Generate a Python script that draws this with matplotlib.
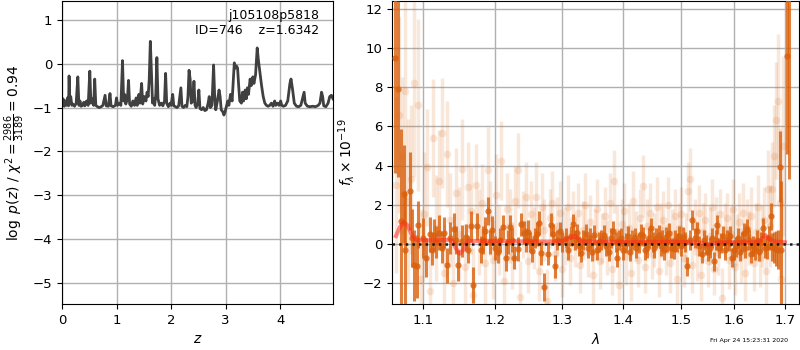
import numpy as np
import matplotlib
matplotlib.use("Agg")
import matplotlib.pyplot as plt
from matplotlib.ticker import FixedLocator, NullLocator, FixedFormatter

# ---------------- left panel: log p(z) ----------------
pz_z = [0.00, 0.02, 0.04, 0.06, 0.08, 0.10, 0.12, 0.13, 0.145, 0.16, 0.18, 0.20, 0.23, 0.26, 0.29, 0.31,
        0.33, 0.35, 0.38, 0.40, 0.42, 0.45, 0.48, 0.51, 0.53, 0.55, 0.58, 0.60, 0.62, 0.65, 0.68, 0.72,
        0.75, 0.79, 0.81, 0.85, 0.88, 0.90, 0.94, 0.98, 1.00, 1.02, 1.05, 1.08, 1.11, 1.13, 1.15, 1.17,
        1.20, 1.22, 1.24, 1.27, 1.30, 1.33, 1.36, 1.38, 1.41, 1.43, 1.46, 1.48, 1.51, 1.54, 1.56, 1.58,
        1.60, 1.62, 1.64, 1.66, 1.68, 1.70, 1.72, 1.74, 1.76, 1.79, 1.82, 1.85, 1.88, 1.90, 1.92, 1.95,
        1.98, 2.00, 2.03, 2.05, 2.08, 2.11, 2.14, 2.18, 2.20, 2.23, 2.26, 2.29, 2.31, 2.33, 2.35, 2.37,
        2.40, 2.42, 2.44, 2.46, 2.49, 2.51, 2.53, 2.56, 2.59, 2.62, 2.65, 2.68, 2.70, 2.72, 2.75, 2.78,
        2.80, 2.82, 2.85, 2.88, 2.90, 2.92, 2.95, 2.97, 2.99, 3.01, 3.04, 3.06, 3.09, 3.12, 3.14, 3.16,
        3.18, 3.20, 3.22, 3.24, 3.26, 3.29, 3.31, 3.33, 3.36, 3.38, 3.40, 3.42, 3.45, 3.47, 3.50, 3.52,
        3.55, 3.58, 3.60, 3.63, 3.66, 3.69, 3.72, 3.75, 3.78, 3.81, 3.84, 3.87, 3.90, 3.92, 3.95, 3.98,
        4.01, 4.03, 4.06, 4.10, 4.14, 4.18, 4.20, 4.23, 4.26, 4.30, 4.34, 4.38, 4.41, 4.44, 4.46, 4.50,
        4.55, 4.60, 4.65, 4.70, 4.73, 4.76, 4.78, 4.80, 4.84, 4.88, 4.91, 4.94, 4.97]
pz_logp = [-0.95, -0.80, -0.97, -0.85, -0.95, -0.78, -0.96, -0.28, -0.90, -0.75, -0.95, -0.92, -0.97, -0.90, -0.30, -0.95,
           -0.85, -0.97, -0.95, -0.88, -0.96, -0.85, -0.95, -0.17, -0.90, -0.80, -0.95, -0.35, -0.95, -0.98, -1.00, -0.98,
           -0.95, -0.72, -0.96, -0.97, -0.68, -0.96, -0.98, -0.95, -0.78, -0.95, -0.90, -0.95, 0.07, -0.85, -0.70, -0.92,
           -0.80, -0.38, -0.92, -0.97, -0.85, -0.95, -0.78, -0.95, -0.70, -0.90, -0.45, -0.92, -0.75, -0.85, -0.65, -0.75,
           -0.35, 0.51, -0.20, -0.90, -0.80, -0.95, -0.70, 0.14, -0.80, -0.95, -0.90, -0.96, -0.85, -0.22, -0.90, -0.98,
           -0.90, -0.95, -0.70, -0.96, -0.98, -1.00, -0.96, -0.55, -0.97, -1.00, -0.95, -0.98, -0.75, -0.15, -0.35, -0.90,
           -0.85, -0.40, -0.95, -1.00, -0.90, -0.60, -1.02, -1.05, -1.00, -1.07, -1.05, -0.90, -0.75, -1.00, -0.95, -0.03,
           -0.75, -1.05, -0.85, -0.60, -0.75, -1.05, -1.10, -1.17, -1.10, -1.00, -0.85, -0.95, -0.70, -0.85, -0.40, 0.02,
           -0.10, -0.05, -0.10, -0.50, -0.85, -0.90, -0.65, -0.85, -0.60, -0.80, -0.55, -0.70, -0.35, -0.50, -0.30, -0.45,
           -0.25, 0.36, 0.10, -0.20, -0.50, -0.75, -0.90, -0.95, -0.97, -0.95, -0.90, -0.97, -0.85, -0.95, -0.90, -0.95,
           -0.85, -0.95, -0.97, -0.95, -0.85, -0.45, -0.35, -0.60, -0.90, -0.97, -0.98, -0.95, -0.80, -0.65, -0.90, -0.97,
           -0.98, -0.97, -0.98, -0.95, -0.90, -0.65, -0.75, -0.96, -0.98, -0.90, -0.75, -0.72, -0.80]
pz_xticks = [0, 1, 2, 3, 4]
pz_yticks = [-5, -4, -3, -2, -1, 0, 1]

# ---------------- right panel: spectrum ----------------
sp_wave = [1.064, 1.068, 1.071, 1.075, 1.077, 1.083, 1.086, 1.089, 1.092, 1.094, 1.100, 1.104, 1.109, 1.112,
           1.115, 1.118, 1.122, 1.125, 1.128, 1.133, 1.137, 1.142, 1.145, 1.148, 1.153, 1.158, 1.161, 1.165,
           1.169, 1.174, 1.179, 1.182, 1.185, 1.189, 1.192, 1.196, 1.200, 1.204, 1.207, 1.211, 1.216, 1.219,
           1.222, 1.225, 1.228, 1.233, 1.238, 1.243, 1.246, 1.249, 1.252, 1.255, 1.259, 1.262, 1.265, 1.268,
           1.273, 1.278, 1.283, 1.286, 1.289, 1.293, 1.297, 1.301, 1.306, 1.310, 1.314, 1.318, 1.321, 1.324,
           1.327, 1.331, 1.334, 1.338, 1.341, 1.345, 1.348, 1.352, 1.356, 1.359, 1.363, 1.367, 1.371, 1.376,
           1.380, 1.383, 1.387, 1.390, 1.393, 1.396, 1.400, 1.405, 1.408, 1.411, 1.415, 1.419, 1.422, 1.426,
           1.430, 1.433, 1.437, 1.441, 1.444, 1.447, 1.450, 1.452, 1.456, 1.461, 1.464, 1.467, 1.470, 1.473,
           1.476, 1.479, 1.483, 1.487, 1.490, 1.494, 1.497, 1.500, 1.504, 1.508, 1.512, 1.516, 1.520, 1.525,
           1.530, 1.534, 1.538, 1.542, 1.546, 1.549, 1.553, 1.557, 1.561, 1.564, 1.567, 1.570, 1.574, 1.578,
           1.581, 1.585, 1.589, 1.592, 1.596, 1.600, 1.603, 1.607, 1.610, 1.614, 1.618, 1.621, 1.624, 1.628,
           1.633, 1.636, 1.640, 1.644, 1.647, 1.651, 1.655, 1.659, 1.664, 1.667, 1.671, 1.674, 1.678, 1.682,
           1.686, 1.689, 1.693, 1.704, 1.708]
sp_flux = [9.5, 7.9, 1.15, 2.55, -0.3, 2.7, 0.3, -1.1, -1.15, 0.97, 0.3, -0.7, 0.49, -0.3,
           0.45, 0.1, 0.57, -0.2, 0.58, -1.1, 0.3, 0.78, 0.2, -1.1, 0.15, 0.33, -0.3, 0.9,
           -2.1, 0.9, -0.3, 0.2, 0.66, 1.68, 0.1, 0.7, -0.2, -0.4, 0.2, 0.85, -0.7, 0.1,
           0.85, 0.2, -0.7, -0.26, 1.0, 0.58, 0.2, 0.6, 0.1, -0.35, 0.3, 0.5, 1.07, -0.46,
           -2.2, -0.5, 0.98, 0.5, -1.15, 0.2, 0.64, 0.1, 0.3, -0.3, 0.4, 1.0, 0.2, 0.53,
           -0.1, -0.45, 0.2, 0.5, -0.2, 0.3, -0.4, 0.45, -0.3, 0.1, 0.2, 0.46, -0.1, -0.4,
           0.3, 0.66, 0.1, -0.7, 0.2, 0.32, -0.3, 0.03, 0.4, -0.4, 0.2, 0.33, -0.2, 0.03,
           0.5, 0.38, -0.3, -0.22, 0.3, 0.83, 0.1, -0.22, 0.3, 0.46, -0.1, 0.2, -0.3, 0.35,
           0.1, 0.58, -0.2, -0.27, 0.2, 0.07, 0.4, -0.1, 0.35, 0.1, -1.15, 0.2, 1.22, 0.3,
           0.64, -0.1, -0.5, 0.2, -0.05, -0.4, -0.22, 0.3, -0.9, 0.2, 0.98, -0.2, 0.03, 0.4,
           -0.3, 0.2, 0.12, 0.4, -0.7, -0.3, -0.15, 0.3, -0.4, 0.1, 0.55, -0.2, 0.78, 0.2,
           -0.5, -0.1, -0.3, 0.2, -0.4, 0.1, 0.8, -0.2, -0.15, 0.3, 1.4, -0.15, -0.2, -0.25,
           -0.3, 3.95, -0.3, 9.6, 13.5]
sp_err = [5.9, 4.5, 4.7, 2.5, 3.0, 2.0, 1.5, 1.8, 1.6, 1.2, 1.0, 1.0, 0.9, 0.8,
          0.8, 0.8, 0.9, 0.8, 0.8, 0.9, 0.8, 0.8, 0.7, 0.8, 0.8, 0.7, 0.7, 0.8,
          0.9, 0.7, 0.7, 0.7, 0.7, 0.7, 0.6, 0.7, 0.6, 0.6, 0.6, 0.6, 0.7, 0.6,
          0.6, 0.6, 0.6, 0.6, 0.6, 0.6, 0.6, 0.6, 0.5, 0.6, 0.5, 0.6, 0.6, 0.6,
          0.7, 0.6, 0.6, 0.5, 0.6, 0.5, 0.5, 0.5, 0.5, 0.5, 0.5, 0.5, 0.5, 0.5,
          0.5, 0.5, 0.5, 0.5, 0.5, 0.5, 0.5, 0.5, 0.5, 0.5, 0.5, 0.5, 0.5, 0.5,
          0.5, 0.5, 0.5, 0.5, 0.5, 0.5, 0.5, 0.5, 0.5, 0.5, 0.5, 0.5, 0.5, 0.5,
          0.5, 0.5, 0.5, 0.5, 0.5, 0.5, 0.5, 0.5, 0.5, 0.5, 0.5, 0.5, 0.5, 0.5,
          0.5, 0.5, 0.5, 0.5, 0.5, 0.5, 0.5, 0.5, 0.5, 0.5, 0.5, 0.5, 0.5, 0.5,
          0.5, 0.5, 0.5, 0.5, 0.5, 0.5, 0.5, 0.5, 0.5, 0.5, 0.5, 0.5, 0.5, 0.5,
          0.5, 0.5, 0.5, 0.5, 0.5, 0.5, 0.5, 0.5, 0.5, 0.5, 0.5, 0.5, 0.5, 0.5,
          0.5, 0.5, 0.5, 0.5, 0.5, 0.5, 0.5, 0.5, 0.6, 0.6, 0.7, 0.7, 0.8, 0.9,
          1.0, 1.8, 3.5, 5.0, 10.2]

raw_wave = [1.065, 1.069, 1.073, 1.077, 1.081, 1.085, 1.089, 1.093, 1.097, 1.101, 1.105, 1.109, 1.113, 1.117,
            1.121, 1.125, 1.129, 1.133, 1.137, 1.141, 1.145, 1.149, 1.153, 1.157, 1.161, 1.165, 1.169, 1.173,
            1.177, 1.181, 1.185, 1.189, 1.193, 1.197, 1.201, 1.205, 1.209, 1.213, 1.217, 1.221, 1.225, 1.229,
            1.233, 1.237, 1.241, 1.245, 1.249, 1.253, 1.257, 1.261, 1.265, 1.269, 1.273, 1.277, 1.281, 1.285,
            1.289, 1.293, 1.297, 1.301, 1.305, 1.309, 1.313, 1.317, 1.321, 1.325, 1.329, 1.333, 1.337, 1.341,
            1.345, 1.349, 1.353, 1.357, 1.361, 1.365, 1.369, 1.373, 1.377, 1.381, 1.385, 1.389, 1.393, 1.397,
            1.401, 1.405, 1.409, 1.413, 1.417, 1.421, 1.425, 1.429, 1.433, 1.437, 1.441, 1.445, 1.449, 1.453,
            1.457, 1.461, 1.465, 1.469, 1.473, 1.477, 1.481, 1.485, 1.489, 1.493, 1.497, 1.501, 1.505, 1.509,
            1.513, 1.517, 1.521, 1.525, 1.529, 1.533, 1.537, 1.541, 1.545, 1.549, 1.553, 1.557, 1.561, 1.565,
            1.569, 1.573, 1.577, 1.581, 1.585, 1.589, 1.593, 1.597, 1.601, 1.605, 1.609, 1.613, 1.617, 1.621,
            1.625, 1.629, 1.633, 1.637, 1.641, 1.645, 1.649, 1.653, 1.657, 1.661, 1.665, 1.669, 1.673, 1.677,
            1.681, 1.685, 1.689, 1.693, 1.697]
raw_flux = [3.0, 6.6, 4.5, 7.8, 2.2, 3.3, 8.2, 7.1, -1.8, 1.5, 3.9, -2.4, 5.4, 0.8,
            3.2, 5.65, -1.5, 4.58, 1.2, -2.0, 2.6, 0.5, 3.8, -1.2, 2.9, 1.7, -2.6, 3.0,
            0.6, 2.1, -1.0, 3.75, 1.3, -0.8, 2.5, 0.2, 4.25, -1.9, 1.8, 0.9, -0.6, 2.2,
            3.75, -2.7, 1.0, 2.4, -0.9, 1.5, 0.3, 2.4, -1.4, 1.9, 0.7, -2.9, 1.3, 2.1,
            -0.5, 0.9, 1.6, -1.3, 0.4, 1.9, -0.7, 1.2, 0.1, 1.6, -1.1, 0.7, 2.0, -0.4,
            1.1, -1.6, 0.5, 1.8, -0.9, 0.3, 1.4, -0.2, 2.1, -1.3, 3.2, 0.6, -2.1, 1.0,
            1.7, -0.6, 0.8, -1.5, 2.2, 0.4, -0.8, 1.3, 2.95, -1.2, 0.9, 1.6, -0.5, 0.2,
            1.9, -1.4, 0.7, 1.2, -0.3, 2.0, -1.0, 0.5, 1.4, -1.8, 0.8, 1.5, -0.7, 0.3,
            2.7, 3.3, -1.1, 1.0, -0.4, 1.6, -1.6, 0.6, 1.2, -0.9, 0.4, 1.9, -1.3, 0.9,
            -0.2, 1.5, -2.75, 0.7, 1.3, -0.8, 0.5, 1.8, -1.2, 0.2, 1.1, -0.6, 1.6, -1.5,
            0.8, 0.3, 1.4, -1.0, 0.6, 1.9, -0.7, 0.4, 1.2, -1.4, 2.8, 0.9, 2.8, 4.5,
            6.3, 7.3, 2.1, -1.8, 5.0]
raw_err = [4.5, 5.0, 4.0, 5.5, 4.2, 3.8, 4.8, 4.4, 3.6, 3.2, 3.0, 2.8, 3.0, 2.7,
           2.6, 2.8, 2.5, 2.7, 2.4, 2.5, 2.3, 2.4, 2.6, 2.2, 2.3, 2.2, 2.4, 2.1,
           2.2, 2.0, 2.1, 2.2, 1.9, 2.0, 2.1, 1.8, 2.0, 1.9, 1.8, 1.9, 1.7, 1.8,
           1.9, 1.8, 1.7, 1.8, 1.6, 1.7, 1.6, 1.8, 1.5, 1.7, 1.6, 1.6, 1.5, 1.6,
           1.4, 1.5, 1.6, 1.4, 1.5, 1.6, 1.4, 1.5, 1.3, 1.5, 1.4, 1.5, 1.6, 1.3,
           1.4, 1.5, 1.3, 1.5, 1.4, 1.3, 1.5, 1.4, 1.5, 1.3, 1.6, 1.4, 1.5, 1.3,
           1.4, 1.5, 1.3, 1.4, 1.5, 1.3, 1.4, 1.5, 1.6, 1.3, 1.4, 1.5, 1.3, 1.4,
           1.5, 1.3, 1.4, 1.5, 1.3, 1.4, 1.5, 1.3, 1.4, 1.5, 1.3, 1.4, 1.5, 1.3,
           1.5, 1.6, 1.4, 1.3, 1.5, 1.4, 1.3, 1.5, 1.4, 1.3, 1.5, 1.4, 1.3, 1.5,
           1.4, 1.3, 1.5, 1.4, 1.3, 1.5, 1.4, 1.5, 1.4, 1.3, 1.5, 1.4, 1.5, 1.4,
           1.5, 1.4, 1.5, 1.4, 1.5, 1.6, 1.5, 1.6, 1.7, 1.8, 2.0, 2.1, 2.4, 2.6,
           3.0, 3.4, 3.8, 4.2, 4.6]

model_wave = [1.065, 1.070, 1.075, 1.080, 1.085, 1.090, 1.095, 1.100, 1.120, 1.135, 1.140, 1.145, 1.150,
              1.155, 1.160, 1.165, 1.200, 1.250, 1.290, 1.300, 1.310, 1.320, 1.325, 1.330, 1.400, 1.500,
              1.540, 1.550, 1.560, 1.570, 1.600, 1.640, 1.650, 1.660, 1.665, 1.670, 1.680, 1.700]
model_flux = [0.40, 0.85, 1.10, 0.95, 0.50, 0.22, 0.18, 0.18, 0.18, 0.20, 0.15, -0.25, -0.50,
              -0.30, 0.10, 0.15, 0.15, 0.12, 0.12, 0.15, 0.25, 0.40, 0.30, 0.12, 0.10, 0.10,
              0.05, -0.05, 0.02, 0.08, 0.08, 0.08, 0.15, 0.45, 0.35, 0.20, 0.12, 0.08]

sp_xticks = [1.1, 1.2, 1.3, 1.4, 1.5, 1.6, 1.7]
sp_yticks = [-2, 0, 2, 4, 6, 8, 10, 12]

# ---------------- figure ----------------
fig = plt.figure(figsize=(8, 3.5), dpi=100)
ax1 = fig.add_axes([62 / 800, 46 / 350, 271 / 800, 303 / 350])
ax2 = fig.add_axes([392 / 800, 46 / 350, 407 / 800, 303 / 350])

ax1.plot(pz_z, pz_logp, color='#404040', lw=2)
ax1.set_xlim(0, 4.97)
ax1.set_ylim(-5.48, 1.43)
ax1.set_xticks(pz_xticks)
ax1.set_yticks(pz_yticks)
ax1.grid(True, color='#b0b0b0', lw=1)
ax1.set_axisbelow(True)
ax1.set_xlabel(r'$z$', fontsize=10)
ax1.set_ylabel(r'$\log\ p(z)$ / $\chi^2=\frac{2986}{3189}=0.94$', fontsize=10)
ax1.text(0.95, 0.975, 'j105108p5818\nID=746    z=1.6342', transform=ax1.transAxes,
         ha='right', va='top', fontsize=9, linespacing=1.2)
ax1.tick_params(labelsize=9.5)

dark = '#d9600c'
ax2.errorbar(raw_wave, raw_flux, yerr=raw_err, fmt='o', color=dark, alpha=0.15,
             ms=5.5, mew=0, elinewidth=2.5, zorder=2)
ax2.errorbar(sp_wave, sp_flux, yerr=sp_err, fmt='o', color=dark, alpha=0.8,
             ms=4.5, mew=0, elinewidth=2.2, zorder=3)
ax2.plot(model_wave, model_flux, color='#ff2a1a', alpha=0.55, lw=3, zorder=4)
ax2.axhline(0, color='k', ls=':', lw=1.8, alpha=0.85, zorder=5)

ax2.set_xscale('log')
ax2.set_xlim(1.060, 1.729)
ax2.set_ylim(-3.07, 12.4)
ax2.xaxis.set_major_locator(FixedLocator(sp_xticks))
ax2.xaxis.set_major_formatter(FixedFormatter([f'{t:.1f}' for t in sp_xticks]))
ax2.xaxis.set_minor_locator(NullLocator())
ax2.set_yticks(sp_yticks)
ax2.grid(True, color='#b0b0b0', lw=1)
ax2.set_axisbelow(True)
ax2.set_xlabel(r'$\lambda$', fontsize=10)
ax2.set_ylabel(r'$f_\lambda \times 10^{-19}$', fontsize=10)
ax2.tick_params(labelsize=9.5)

fig.text(0.985, 0.02, 'Fri Apr 24 15:23:31 2020', ha='right', va='bottom', fontsize=4.5)

fig.savefig('out.png', dpi=100)
